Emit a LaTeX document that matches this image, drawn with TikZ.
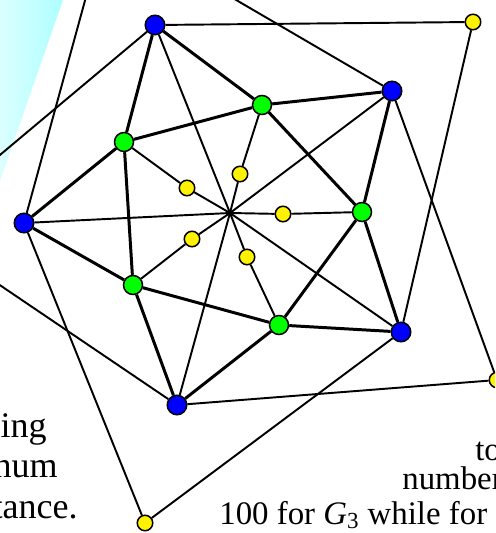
\documentclass[tikz,border=0pt]{standalone}
\usepackage{fontspec}
\setmainfont{Liberation Serif}

\begin{document}
\begin{tikzpicture}[x=0.02cm, y=-0.02cm,
  vtx/.style={draw, circle, inner sep=0pt, line width=0.85pt},
  bv/.style={vtx, fill=blue, minimum size=0.39cm},
  gv/.style={vtx, fill=green, minimum size=0.38cm},
  yv/.style={vtx, fill=yellow, minimum size=0.31cm},
  thn/.style={line width=1.1pt},
  thk/.style={line width=1.7pt},
  txt/.style={font=\fontsize{18.7}{22}\selectfont, inner sep=0pt},
  ltxt/.style={font=\fontsize{20.5}{23}\selectfont, inner sep=0pt}
]
  \useasboundingbox (0,0) rectangle (495,533);
  \clip (0,0) rectangle (495,533);
  \shade[left color=cyan!14, right color=cyan!32] (0,0) -- (63,0) -- (0,181) -- cycle;

  \node[bv] (b1) at (155,25)  {};
  \node[bv] (b2) at (392,91)  {};
  \node[bv] (b3) at (401,332) {};
  \node[bv] (b4) at (177,405) {};
  \node[bv] (b5) at (24,223)  {};
  \node[gv] (g1) at (262,105) {};
  \node[gv] (g2) at (362,212) {};
  \node[gv] (g3) at (279,325) {};
  \node[gv] (g4) at (133,285) {};
  \node[gv] (g5) at (124,142) {};
  \node[yv] (y1) at (240,174) {};
  \node[yv] (y2) at (283,214) {};
  \node[yv] (y3) at (247,257) {};
  \node[yv] (y4) at (192,239) {};
  \node[yv] (y5) at (187,188) {};
  \node[yv] (o1) at (473,22)  {};
  \node[yv] (o2) at (497,380) {};
  \node[yv] (o3) at (145,523) {};
  \coordinate (o4) at (-86,227);
  \coordinate (o5) at (106,-76);
  \coordinate (c) at (230,213);

  \draw[thk] (b1) -- (g5) -- (g1) -- (b1);
  \draw[thk] (g1) -- (b2) -- (g2) -- (g1);
  \draw[thk] (g2) -- (b3) -- (g3) -- (g2);
  \draw[thk] (g3) -- (b4) -- (g4) -- (g3);
  \draw[thk] (g4) -- (b5) -- (g5) -- (g4);

  \draw[thn] (c) -- (b1) (c) -- (b2) (c) -- (b3) (c) -- (b4) (c) -- (b5);
  \draw[thn] (c) -- (y1) -- (g1);
  \draw[thn] (c) -- (y2) -- (g2);
  \draw[thn] (c) -- (y3) -- (g3);
  \draw[thn] (c) -- (y4) -- (g4);
  \draw[thn] (c) -- (y5) -- (g5);

  \draw[thn] (b1) -- (o1) -- (b3);
  \draw[thn] (b2) -- (o2) -- (b4);
  \draw[thn] (b3) -- (o3) -- (b5);
  \draw[thn] (b4) -- (o4) -- (b1);
  \draw[thn] (b5) -- (o5) -- (b2);

  \node[ltxt, anchor=base east] (l1) at (47,437)  {ing};
  \node[ltxt, anchor=base east] (l2) at (58,477)  {num};
  \node[ltxt, anchor=base east] (l3) at (78,518)  {tance.};
  \node[txt, anchor=base west] (r1) at (475,460) {to};
  \node[txt, anchor=base west] (r2) at (402,489) {number};
  \node[txt, anchor=base west] (r3) at (219,524) {100 for \textit{G}\textsubscript{3} while for \textit{G}};
\end{tikzpicture}
\end{document}
